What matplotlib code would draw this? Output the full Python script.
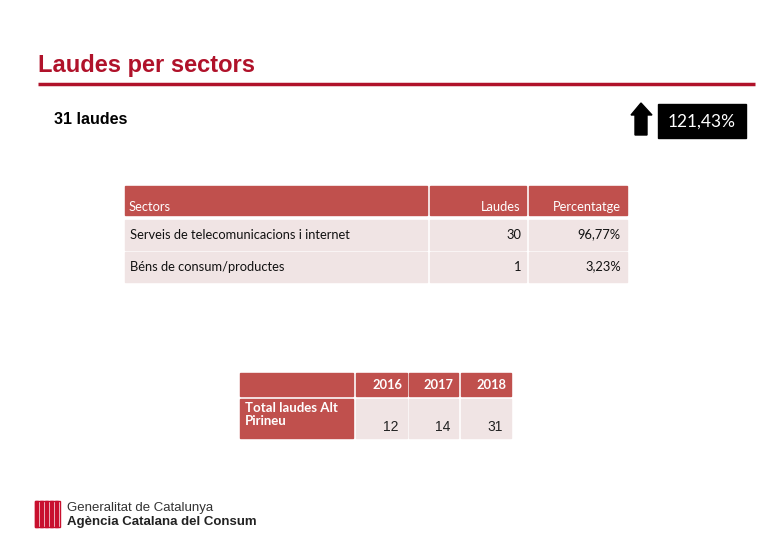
import matplotlib.pyplot as plt
from matplotlib.patches import Rectangle, Polygon

# dades
total_laudes = 31
increment = '121,43%'
sectors = ['Serveis de telecomunicacions i internet', 'Béns de consum/productes']
laudes = [30, 1]
percentatges = ['96,77%', '3,23%']
capcalera = ['Sectors', 'Laudes', 'Percentatge']
anys = ['2016', '2017', '2018']
totals = [12, 14, 31]
fila_total = 'Total laudes Alt\nPirineu'

VERMELL = '#C0504D'
ROSAT = '#F0E4E4'
TITOL = '#B0122A'
FONT = ['Lato', 'DejaVu Sans']

fig = plt.figure(figsize=(7.8, 5.4), dpi=100)
ax = fig.add_axes([0, 0, 1, 1])
ax.set_xlim(0, 780)
ax.set_ylim(540, 0)
ax.axis('off')

# títol i línia
ax.text(38, 72, 'Laudes per sectors', color=TITOL, fontsize=17, fontweight='bold',
        family='Liberation Sans', va='baseline')
ax.plot([38, 755], [84, 84], color=TITOL, lw=2.5, solid_capstyle='butt')

ax.text(54, 120, f'{total_laudes} laudes', fontsize=11.5, fontweight='bold',
        family='Liberation Sans', va='center')

# fletxa i increment
ax.add_patch(Polygon([(635, 135), (647, 135), (647, 115), (652, 115), (641, 103),
                      (631, 115), (635, 115)], closed=True, color='black'))
ax.add_patch(Rectangle((658, 104), 88, 34, color='black'))
ax.text(702, 122, increment, color='white', fontsize=12.5, family=FONT,
        ha='center', va='center')

# taula de sectors
cols = [(125, 427), (430, 526), (529, 627)]
for x0, x1 in cols:
    ax.add_patch(Rectangle((x0, 186), x1 - x0, 29, color=VERMELL))
ax.text(129, 207, capcalera[0], color='white', fontsize=9.3, family=FONT, va='center')
ax.text(521, 207, capcalera[1], color='white', fontsize=9.3, family=FONT, va='center', ha='right')
ax.text(621, 207, capcalera[2], color='white', fontsize=9.3, family=FONT, va='center', ha='right')

files_y = [(220, 250), (252, 282)]
for (y0, y1), sector, n, pct in zip(files_y, sectors, laudes, percentatges):
    for x0, x1 in cols:
        ax.add_patch(Rectangle((x0, y0), x1 - x0, y1 - y0, color=ROSAT))
    ym = (y0 + y1) / 2
    ax.text(130, ym, sector, fontsize=9.3, family=FONT, va='center', color='#111111')
    ax.text(521, ym, str(n), fontsize=9.3, family=FONT, va='center', ha='right', color='#111111')
    ax.text(621, ym - 1, pct, fontsize=9.3, family=FONT, va='center', ha='right', color='#111111')

# taula d'evolució
cols2 = [(356, 407), (409, 458), (461, 511)]
ax.add_patch(Rectangle((240, 373), 113, 23, color=VERMELL))
ax.add_patch(Rectangle((240, 399), 113, 39, color=VERMELL))
ax.text(245, 402, fila_total, color='white', fontsize=9.5, family=FONT,
        va='top', fontweight='bold', linespacing=1.1)
for (x0, x1), a, t in zip(cols2, anys, totals):
    ax.add_patch(Rectangle((x0, 373), x1 - x0, 23, color=VERMELL))
    ax.add_patch(Rectangle((x0, 399), x1 - x0, 39, color=ROSAT))
    ax.text(x1 - 5, 385, a, color='white', fontsize=9.3, family=FONT,
            fontweight='bold', ha='right', va='center')
    ax.text(x1 - 8, 427, str(t), color='#222222', fontsize=10, family='Liberation Sans',
            ha='right', va='center')

# logotip
for i in range(5):
    ax.add_patch(Rectangle((35 + i * 5, 501), 3, 26, color='#C8102E'))
ax.add_patch(Rectangle((35, 501), 25, 26, fill=False, ec='#C8102E', lw=1))
ax.text(67, 508, 'Generalitat de Catalunya', fontsize=9.5, family='Liberation Sans',
        va='center', color='#333333')
ax.text(67, 522, 'Agència Catalana del Consum', fontsize=9.5, family='Liberation Sans',
        va='center', fontweight='bold', color='#222222')

fig.savefig('out.png', dpi=100)
